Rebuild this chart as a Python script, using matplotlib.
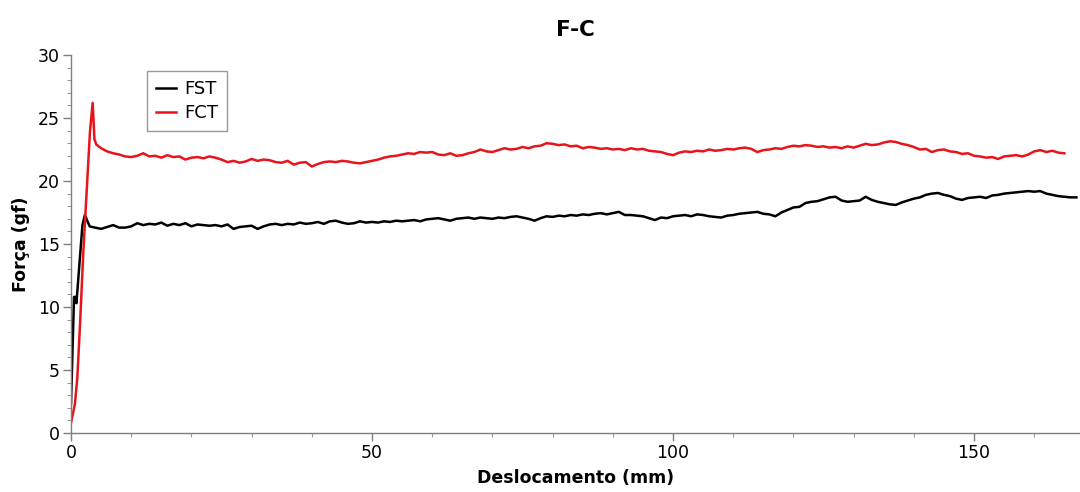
import numpy as np
import matplotlib
matplotlib.use("Agg")
import matplotlib.pyplot as plt
from matplotlib.ticker import MultipleLocator

# FST (black) - initial rise, then 1 mm samples from 4 to 167 mm
fst_start_x = [0.0, 0.5, 0.8, 0.9, 1.9, 2.3, 3.1]
fst_start_y = [2.3, 10.8, 10.8, 10.3, 16.5, 17.3, 16.4]
fst_body = [
    16.3, 16.2, 16.35, 16.5, 16.3, 16.3, 16.4, 16.65, 16.5, 16.6,
    16.55, 16.7, 16.45, 16.6, 16.5, 16.65, 16.4, 16.55, 16.5, 16.45,
    16.5, 16.4, 16.55, 16.2, 16.35, 16.4, 16.45, 16.2, 16.4, 16.55,
    16.6, 16.5, 16.6, 16.55, 16.7, 16.6, 16.65, 16.75, 16.6, 16.8,
    16.85, 16.7, 16.6, 16.65, 16.8, 16.7, 16.75, 16.7, 16.8, 16.75,
    16.85, 16.8, 16.85, 16.9, 16.8, 16.95, 17.0, 17.05, 16.95, 16.85,
    17.0, 17.05, 17.1, 17.0, 17.1, 17.05, 17.0, 17.1, 17.05, 17.15,
    17.2, 17.1, 17.0, 16.85, 17.05, 17.2, 17.15, 17.25, 17.2, 17.3,
    17.25, 17.35, 17.3, 17.4, 17.45, 17.35, 17.45, 17.55, 17.3, 17.3,
    17.25, 17.2, 17.05, 16.9, 17.1, 17.05, 17.2, 17.25, 17.3, 17.2,
    17.35, 17.3, 17.2, 17.15, 17.1, 17.25, 17.3, 17.4, 17.45, 17.5,
    17.55, 17.4, 17.35, 17.2, 17.5, 17.7, 17.9, 17.95, 18.25, 18.35,
    18.4, 18.55, 18.7, 18.75, 18.45, 18.35, 18.4, 18.45, 18.75, 18.5,
    18.35, 18.25, 18.15, 18.1, 18.3, 18.45, 18.6, 18.7, 18.9, 19.0,
    19.05, 18.9, 18.8, 18.6, 18.5, 18.65, 18.7, 18.75, 18.65, 18.85,
    18.9, 19.0, 19.05, 19.1, 19.15, 19.2, 19.15, 19.2, 19.0, 18.9,
    18.8, 18.75, 18.7, 18.7,
]

# FCT (red) - initial rise with peak, then 1 mm samples from 5 to 165 mm
fct_start_x = [0.0, 0.65, 1.05, 1.5, 2.05, 2.6, 3.15, 3.6, 3.9, 4.2]
fct_start_y = [0.8, 2.3, 4.4, 8.6, 14.4, 19.2, 23.9, 26.2, 23.3, 22.9]
fct_body = [
    22.6, 22.35, 22.2, 22.1, 21.95, 21.9, 22.0, 22.2, 21.95, 22.0,
    21.85, 22.05, 21.9, 21.95, 21.7, 21.85, 21.9, 21.8, 21.95, 21.85,
    21.7, 21.5, 21.6, 21.45, 21.55, 21.75, 21.6, 21.7, 21.65, 21.5,
    21.45, 21.6, 21.3, 21.45, 21.5, 21.15, 21.35, 21.5, 21.55, 21.5,
    21.6, 21.55, 21.45, 21.4, 21.5, 21.6, 21.7, 21.85, 21.95, 22.0,
    22.1, 22.2, 22.15, 22.3, 22.25, 22.3, 22.1, 22.05, 22.2, 22.0,
    22.05, 22.2, 22.3, 22.5, 22.35, 22.3, 22.45, 22.6, 22.5, 22.55,
    22.7, 22.6, 22.75, 22.8, 23.0, 22.95, 22.85, 22.9, 22.75, 22.8,
    22.6, 22.7, 22.65, 22.55, 22.6, 22.5, 22.55, 22.45, 22.6, 22.5,
    22.55, 22.4, 22.35, 22.3, 22.15, 22.05, 22.25, 22.35, 22.3, 22.4,
    22.35, 22.5, 22.4, 22.45, 22.55, 22.5, 22.6, 22.65, 22.55, 22.3,
    22.45, 22.5, 22.6, 22.55, 22.7, 22.8, 22.75, 22.85, 22.8, 22.7,
    22.75, 22.65, 22.7, 22.6, 22.75, 22.65, 22.8, 22.95, 22.85, 22.9,
    23.05, 23.15, 23.1, 22.95, 22.85, 22.7, 22.5, 22.55, 22.3, 22.45,
    22.5, 22.35, 22.3, 22.15, 22.2, 22.0, 21.95, 21.85, 21.9, 21.75,
    21.95, 22.0, 22.05, 21.95, 22.1, 22.35, 22.45, 22.3, 22.4, 22.25,
    22.2,
]

fst_x = fst_start_x + list(np.arange(4, 4 + len(fst_body)))
fst_y = fst_start_y + fst_body
fct_x = fct_start_x + list(np.arange(5, 5 + len(fct_body)))
fct_y = fct_start_y + fct_body

plt.rcParams["font.family"] = ["DejaVu Sans"]

fig = plt.figure(figsize=(10.8, 4.92), dpi=100)
ax = fig.add_axes([71 / 1080, 59 / 492, 1 - 71 / 1080, 378 / 492])

ax.plot(fst_x, fst_y, color="black", linewidth=1.8, label="FST")
ax.plot(fct_x, fct_y, color="#e8141b", linewidth=1.8, label="FCT")

ax.set_xlim(0, 167.6)
ax.set_ylim(0, 30)
ax.xaxis.set_major_locator(MultipleLocator(50))
ax.xaxis.set_minor_locator(MultipleLocator(10))
ax.yaxis.set_major_locator(MultipleLocator(5))
ax.yaxis.set_minor_locator(MultipleLocator(1))

for side in ("top", "right"):
    ax.spines[side].set_visible(False)
for side in ("left", "bottom"):
    ax.spines[side].set_color("#7f7f7f")
    ax.spines[side].set_linewidth(1.0)
ax.tick_params(which="major", length=6, width=1, color="#7f7f7f", labelsize=12.5, pad=2)
ax.tick_params(which="minor", length=3, width=0.8, color="#9a9a9a")

ax.set_xlabel("Deslocamento (mm)", fontsize=12.5, fontweight="bold", labelpad=5)
ax.set_ylabel("Força (gf)", fontsize=12.5, fontweight="bold", labelpad=6)
ax.set_title("F-C", fontsize=15.5, fontweight="bold", pad=14)

leg = ax.legend(loc="upper left", bbox_to_anchor=(0.075, 0.958), borderaxespad=0,
                fontsize=13, frameon=True, fancybox=False, handlelength=1.1,
                handletextpad=0.5, borderpad=0.5, labelspacing=0.35)
leg.get_frame().set_edgecolor("#7f7f7f")
leg.get_frame().set_linewidth(1.0)

fig.savefig("out.png", dpi=100)
